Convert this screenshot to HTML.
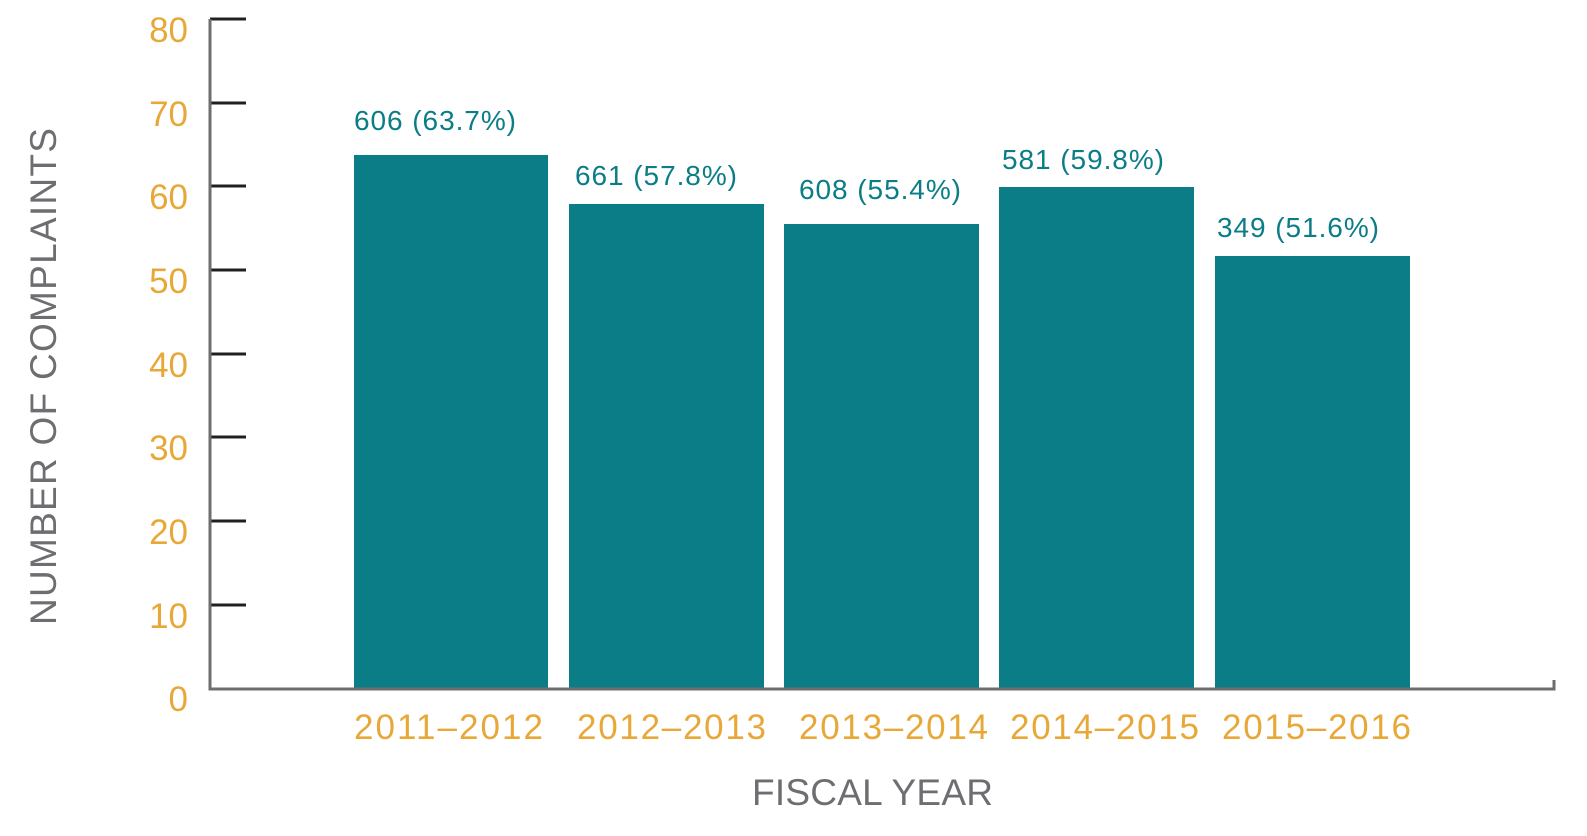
<!DOCTYPE html>
<html><head><style>body{margin:0;background:#fff}</style></head><body>
<svg width="1587" height="831" xmlns="http://www.w3.org/2000/svg" font-family="Liberation Sans, sans-serif">
<rect width="1587" height="831" fill="#fff"/>
<g fill="#0a7d87">
<rect x="354" y="155" width="194" height="534"/>
<rect x="569" y="204" width="195" height="485"/>
<rect x="784" y="224" width="195" height="465"/>
<rect x="999" y="187" width="195" height="502"/>
<rect x="1215" y="256" width="195" height="433"/>
</g>
<g stroke="#231f20" stroke-width="3">
<line x1="210" y1="19" x2="246" y2="19"/><line x1="210" y1="103" x2="246" y2="103"/>
<line x1="210" y1="186" x2="246" y2="186"/><line x1="210" y1="270" x2="246" y2="270"/>
<line x1="210" y1="354" x2="246" y2="354"/><line x1="210" y1="437" x2="246" y2="437"/>
<line x1="210" y1="521" x2="246" y2="521"/><line x1="210" y1="605" x2="246" y2="605"/>
</g>
<g stroke="#6d6e71" stroke-width="3" fill="none">
<polyline points="210,19 210,689 1554,689 1554,680"/>
</g>
<g fill="#e8a838" font-size="35" text-anchor="end">
<text x="188" y="42">80</text><text x="188" y="126">70</text><text x="188" y="209">60</text>
<text x="188" y="293">50</text><text x="188" y="377">40</text><text x="188" y="460">30</text>
<text x="188" y="544">20</text><text x="188" y="628">10</text><text x="188" y="711">0</text>
</g>
<g fill="#e8a838" font-size="35">
<text x="354" y="739" textLength="189">2011–2012</text><text x="577" y="739" textLength="189">2012–2013</text>
<text x="799" y="739" textLength="189">2013–2014</text><text x="1010" y="739" textLength="189">2014–2015</text>
<text x="1222" y="739" textLength="189">2015–2016</text>
</g>
<g fill="#0a7d87" font-size="28">
<text x="354" y="130" textLength="162">606 (63.7%)</text><text x="575" y="185" textLength="162">661 (57.8%)</text>
<text x="799" y="199" textLength="162">608 (55.4%)</text><text x="1002" y="169" textLength="162">581 (59.8%)</text>
<text x="1217" y="237" textLength="162">349 (51.6%)</text>
</g>
<text x="752" y="805" fill="#6d6e71" font-size="37" textLength="241">FISCAL YEAR</text>
<text transform="translate(56,625) rotate(-90)" fill="#6d6e71" font-size="37" textLength="497">NUMBER OF COMPLAINTS</text>
</svg>
</body></html>
